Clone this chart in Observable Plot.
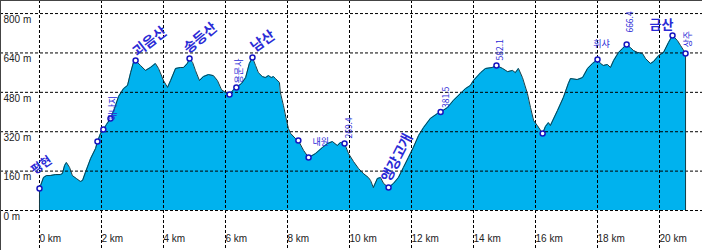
<!DOCTYPE html>
<html><head><meta charset="utf-8">
<script src="https://cdn.jsdelivr.net/npm/d3@7"></script>
<script src="https://cdn.jsdelivr.net/npm/@observablehq/plot@0.6"></script>
<style>html,body{margin:0;padding:0;background:#fff}#chart svg{display:block}</style>
</head><body><div id="chart"></div>
<script>
// Elevation profile (distance in km, elevation in m)
const distanceKm = [0.00,0.13,0.23,0.35,0.52,0.68,0.74,0.81,0.87,0.97,1.06,1.19,1.32,1.39,1.48,1.65,1.81,1.87,1.97,2.06,2.16,2.29,2.42,2.55,2.71,2.84,2.94,3.03,3.10,3.26,3.42,3.58,3.74,3.84,4.00,4.13,4.23,4.39,4.55,4.65,4.77,4.84,4.94,5.03,5.16,5.29,5.45,5.61,5.74,5.87,6.00,6.13,6.26,6.35,6.52,6.65,6.77,6.87,6.97,7.06,7.19,7.29,7.39,7.48,7.55,7.61,7.74,7.77,7.87,7.97,8.03,8.10,8.26,8.35,8.52,8.68,8.90,9.13,9.29,9.45,9.61,9.71,9.84,9.97,10.13,10.29,10.45,10.61,10.68,10.77,10.90,11.00,11.10,11.26,11.42,11.58,11.74,11.90,12.06,12.23,12.39,12.61,12.84,12.94,13.16,13.35,13.58,13.74,13.90,14.00,14.23,14.39,14.61,14.74,14.94,15.10,15.26,15.35,15.45,15.58,15.74,15.84,15.94,16.06,16.23,16.32,16.42,16.48,16.71,16.90,17.06,17.13,17.35,17.52,17.68,17.84,18.00,18.10,18.19,18.32,18.42,18.52,18.68,18.81,18.94,19.06,19.16,19.29,19.45,19.55,19.71,19.81,19.97,20.13,20.29,20.42,20.58,20.68,20.84];
const elevationM = [89,134,142,142,146,146,150,183,195,175,142,130,118,122,154,211,252,280,313,329,349,374,414,463,495,508,560,601,609,589,569,581,597,577,528,500,528,577,581,581,597,617,601,569,528,544,552,548,528,491,479,471,491,500,516,540,597,621,589,560,544,540,548,540,544,536,520,479,426,365,333,313,292,284,244,215,231,256,272,280,264,276,272,231,199,171,150,134,122,93,130,134,110,93,110,134,175,215,256,305,337,374,394,400,418,447,475,495,508,528,560,577,581,589,577,564,569,560,577,540,475,418,365,345,313,341,357,345,406,459,516,536,532,540,577,597,613,597,589,593,581,609,642,658,674,662,650,642,638,617,597,605,629,642,682,711,690,670,638];

// Waypoints (markers)
const waypointKm = [0.00,1.87,2.06,2.29,3.10,4.84,6.13,6.35,6.87,8.35,8.68,9.84,11.26,12.94,14.74,16.23,18.00,18.94,20.42,20.84];
const waypointM  = [89,280,329,374,609,617,471,500,621,284,215,272,93,400,589,313,613,674,711,638];

// Labels attached to waypoints (index into waypoints)
const labelText  = ["평현","해나지","괴음산","송등산","용문사","남산","내원","269.4","앵강고개","381.5","582.1","휘샤","666.4","금산","상주"];
const labelPoint = [0,2,4,5,7,8,10,11,12,13,14,16,17,18,19];

const xTicks = [0,2,4,6,8,10,12,14,16,18,20];
const yTicks = [0,160,320,480,640,800];

const profile = distanceKm.map((d, i) => ({km: d, m: elevationM[i]}));
const waypoints = waypointKm.map((d, i) => ({km: d, m: waypointM[i]}));
const labels = labelText.map((t, i) => ({text: t, ...waypoints[labelPoint[i]]}));
const ends = [profile[0], profile[profile.length - 1]];

const blue = "#2a2ad6";
const style = {
  "평현":   {rotate: -35, dx: -7, dy: -17, fontSize: 12, fontWeight: "bold"},
  "괴음산": {rotate: -38, dx: -1, dy: -7, fontSize: 14, fontWeight: "bold"},
  "송등산": {rotate: -40, dx: -4, dy: -8, fontSize: 14, fontWeight: "bold"},
  "남산":   {rotate: -35, dx: 0, dy: -9, fontSize: 14, fontWeight: "bold"},
  "앵강고개": {rotate: -63, dx: -3, dy: -7, fontSize: 14, fontWeight: "bold"},
  "금산":   {rotate: 0, dx: 1, dy: -11, fontSize: 13, fontWeight: "bold", textAnchor: "end"},
  "해나지": {rotate: -90, dx: 10, dy: -9, fontSize: 9},
  "용문사": {rotate: -90, dx: 3, dy: -4, fontSize: 9},
  "내원":   {rotate: 0, dx: 4, dy: -15, fontSize: 9, textAnchor: "start"},
  "269.4":  {rotate: -90, dx: 5, dy: -5, fontSize: 8.5},
  "381.5":  {rotate: -90, dx: 6, dy: -4, fontSize: 8.5},
  "582.1":  {rotate: -90, dx: 3.5, dy: -5, fontSize: 8.5},
  "휘샤":   {rotate: 0, dx: 4, dy: -15, fontSize: 9, textAnchor: "middle"},
  "666.4":  {rotate: -90, dx: 4, dy: -12, fontSize: 8.5},
  "상주":   {rotate: -90, dx: 3, dy: -6, fontSize: 9}
};
const labelMarks = labels.map(l => {
  const s = style[l.text];
  return Plot.text([l], {
    x: "km", y: "m", text: "text",
    rotate: s.rotate, dx: s.dx, dy: s.dy,
    fontSize: s.fontSize, fontWeight: s.fontWeight || "normal",
    textAnchor: s.textAnchor || "start",
    fill: blue,
    fontFamily: "'Noto Sans CJK KR', 'DejaVu Sans', sans-serif"
  });
});

const chart = Plot.plot({
  width: 702,
  height: 250,
  margin: 0,
  x: {domain: [-1.258, 21.387], axis: null},
  y: {domain: [-162.4, 853], axis: null},
  style: {fontFamily: "'Liberation Sans', Arial, sans-serif", fontSize: "10px", background: "#fff"},
  marks: [
    Plot.areaY(profile, {x: "km", y: "m", fill: "#00b2ee"}),
    Plot.ruleY(yTicks, {stroke: "#000", strokeDasharray: "3,2"}),
    Plot.ruleX(xTicks, {stroke: "#000", strokeDasharray: "3,2"}),
    Plot.lineY(profile, {x: "km", y: "m", stroke: "#123c46", strokeWidth: 1}),
    Plot.ruleX(ends, {x: "km", y1: 0, y2: "m", stroke: "#123c46"}),
    Plot.text(yTicks, {y: d => d, text: d => `${d} m`, frameAnchor: "left", textAnchor: "start", dx: 3, dy: 6, fill: "#222"}),
    Plot.text(xTicks, {x: d => d, text: d => `${d} km`, frameAnchor: "bottom", textAnchor: "start", dy: -9, fill: "#222"}),
    Plot.dot(waypoints, {x: "km", y: "m", r: 2.5, fill: "#fff", stroke: "#1616c0", strokeWidth: 1.5}),
    ...labelMarks,
    Plot.frame({stroke: "#444"})
  ]
});
document.getElementById("chart").append(chart);
</script>
</body></html>
